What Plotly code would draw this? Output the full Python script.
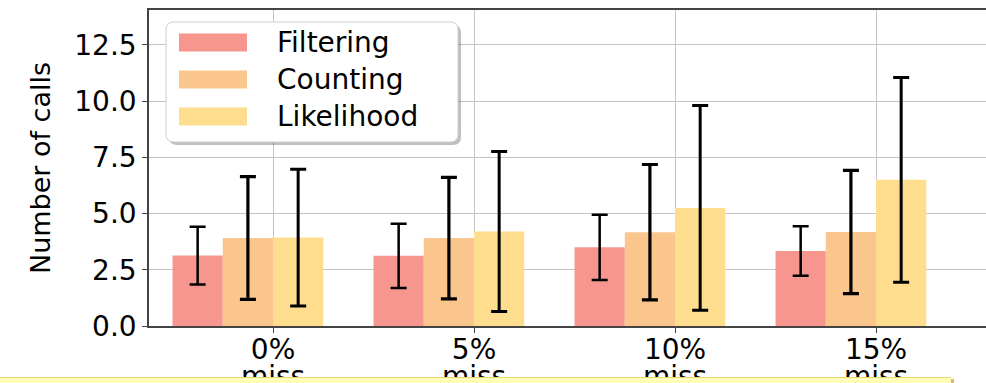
import plotly.graph_objects as go

# ---- data -------------------------------------------------------------
categories = ["0%<br>miss", "5%<br>miss", "10%<br>miss", "15%<br>miss"]
series_names = ["Filtering", "Counting", "Likelihood"]

filtering_mean = [3.13, 3.12, 3.50, 3.33]
filtering_err = [1.28, 1.43, 1.45, 1.10]
counting_mean = [3.91, 3.91, 4.17, 4.18]
counting_err = [2.73, 2.70, 3.01, 2.74]
likelihood_mean = [3.93, 4.20, 5.25, 6.50]
likelihood_err = [3.04, 3.56, 4.55, 4.55]

y_ticks = [0.0, 2.5, 5.0, 7.5, 10.0, 12.5]

# ---- style ------------------------------------------------------------
colors = ["#F6968F", "#FBC58E", "#FEDD8E"]
bar_offsets = [-0.5, -0.25, 0.0]
bar_width = 0.25
err_thickness = [2.5, 3.2, 3.0]
FONT = "DejaVu Sans"
X_RANGE = [-0.617, 3.547]

W, H = 986, 383
L, R, T, B = 149, 986, 10, 326  # plot area in pixels


def px(x):
    return (x - L) / (R - L)


def py(y):
    return (B - y) / (B - T)


fig = go.Figure()
series = [
    (filtering_mean, filtering_err),
    (counting_mean, counting_err),
    (likelihood_mean, likelihood_err),
]
for name, (mean, err), col, off, th in zip(series_names, series, colors, bar_offsets, err_thickness):
    fig.add_trace(go.Bar(
        name=name,
        x=categories,
        y=mean,
        width=bar_width,
        offset=off,
        marker=dict(color=col, line=dict(width=0)),
        error_y=dict(type="data", array=err, visible=True,
                     color="black", thickness=th, width=8),
        showlegend=False,
    ))

shapes = []
annotations = []


def rounded_rect(x0, y0, x1, y1, r):
    # rounded rectangle path in paper coordinates (pixel inputs)
    X0, X1 = px(x0), px(x1)
    Y0, Y1 = py(y0), py(y1)  # Y0 is top
    rx = r / (R - L)
    ry = r / (B - T)
    return (f"M {X0+rx},{Y0} L {X1-rx},{Y0} Q {X1},{Y0} {X1},{Y0-ry} "
            f"L {X1},{Y1+ry} Q {X1},{Y1} {X1-rx},{Y1} "
            f"L {X0+rx},{Y1} Q {X0},{Y1} {X0},{Y1+ry} "
            f"L {X0},{Y0-ry} Q {X0},{Y0} {X0+rx},{Y0} Z")


# legend frame with a soft shadow
shapes.append(dict(type="path", xref="paper", yref="paper",
                   path=rounded_rect(169, 25, 461, 145, 8),
                   fillcolor="rgba(0,0,0,0.25)", line=dict(width=0), layer="above"))
shapes.append(dict(type="path", xref="paper", yref="paper",
                   path=rounded_rect(166, 22, 458, 142, 8),
                   fillcolor="white", line=dict(color="#D0D0D0", width=1), layer="above"))

row_centers = [42.5, 79.5, 116.5]
for name, col, yc in zip(series_names, colors, row_centers):
    shapes.append(dict(type="rect", xref="paper", yref="paper",
                       x0=px(179), x1=px(247), y0=py(yc + 9), y1=py(yc - 9),
                       fillcolor=col, line=dict(width=0), layer="above"))
    annotations.append(dict(x=px(275), y=py(yc), xref="paper", yref="paper",
                            text=name, showarrow=False, xanchor="left", yanchor="middle",
                            font=dict(family=FONT, size=28, color="black")))

# pale yellow strip along the bottom edge (kept inside the figure)
shapes.append(dict(type="rect", xref="paper", yref="paper",
                   x0=px(951), x1=px(954), y0=py(H), y1=py(379),
                   fillcolor="#E2B85A", line=dict(width=0), layer="above"))
shapes.append(dict(type="rect", xref="paper", yref="paper",
                   x0=px(0), x1=px(951), y0=py(H), y1=py(378),
                   fillcolor="#FFFFB8", line=dict(width=0), layer="above"))
shapes.append(dict(type="line", xref="paper", yref="paper",
                   x0=px(0), x1=px(951), y0=py(377.5), y1=py(377.5),
                   line=dict(color="#E8D470", width=1), layer="above"))

# tick label lines: the percentage on the main axis, the word below it
first_lines = [c.split("<br>")[0] for c in categories]
second_lines = [c.split("<br>")[1] for c in categories]

fig.update_layout(
    width=W, height=H,
    margin=dict(l=L, r=W - R, t=T, b=H - B, autoexpand=False),
    plot_bgcolor="white", paper_bgcolor="white",
    barmode="overlay",
    font=dict(family=FONT, size=28, color="black"),
    shapes=shapes,
    annotations=annotations,
    showlegend=False,
    xaxis2=dict(
        overlaying="x", anchor="y", side="bottom", type="linear",
        range=X_RANGE, tickvals=list(range(len(categories))), ticktext=second_lines,
        showgrid=False, showline=False, zeroline=False, ticks="",
        automargin=False, ticklabelstandoff=31,
        tickfont=dict(family=FONT, size=28, color="black"),
    ),
    xaxis=dict(
        type="category", range=X_RANGE, automargin=False,
        tickvals=categories, ticktext=first_lines, ticklabelstandoff=-7,
        showgrid=True, gridcolor="#C4C4C4", gridwidth=1,
        showline=True, linecolor="#444444", linewidth=1.5, mirror=True,
        ticks="outside", ticklen=5, tickcolor="#444444",
        tickfont=dict(family=FONT, size=28, color="black"),
    ),
)
fig.update_yaxes(
    range=[0, 14.05], tickvals=y_ticks, ticktext=[f"{v:.1f}" for v in y_ticks],
    automargin=False,
    showgrid=True, gridcolor="#C4C4C4", gridwidth=1, zeroline=False,
    showline=True, linecolor="#444444", linewidth=1.5, mirror=False,
    ticks="outside", ticklen=5, tickcolor="#444444",
    tickfont=dict(family=FONT, size=28, color="black"),
    title=dict(text="Number of calls", font=dict(family=FONT, size=27, color="black"), standoff=16),
)
# an empty trace so the second x axis is laid out
fig.add_trace(go.Scatter(x=[], y=[], xaxis="x2", yaxis="y", showlegend=False, hoverinfo="skip"))

fig.write_html("out.html", config={"displayModeBar": False})
